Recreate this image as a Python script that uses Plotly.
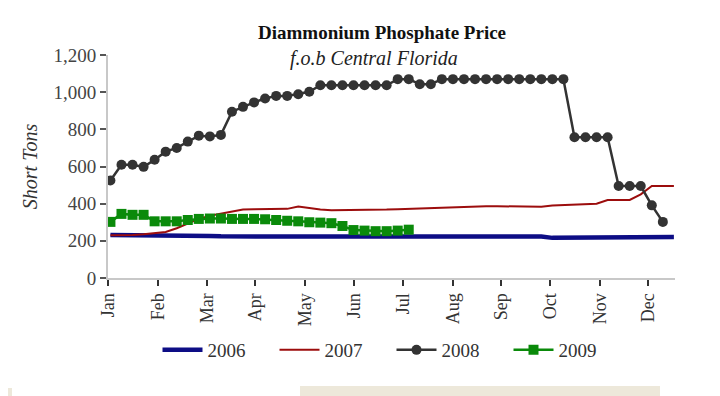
import plotly.graph_objects as go

# ---- data (weekly, week index 0 = first week of January) ----
months = ["Jan", "Feb", "Mar", "Apr", "May", "Jun", "Jul", "Aug", "Sep", "Oct", "Nov", "Dec"]
month_week_pos = [-0.2, 4.34, 8.74, 13.1, 17.6, 22.04, 26.47, 30.98, 35.35, 39.8, 44.3, 48.7]

s2006 = [232, 232, 232, 232, 232, 232, 232, 231, 230, 226, 224, 224, 224, 224, 224, 224,
         224, 224, 224, 224, 224, 224, 224, 224, 226, 226, 226, 226, 226, 226, 226, 226,
         226, 226, 226, 226, 226, 226, 225, 223, 216, 216, 216, 216, 216, 216, 216, 216,
         216, 218, 220, 220]
s2007 = [230, 230, 232, 235, 240, 248, 268, 295, 318, 335, 347, 358, 368, 370, 370, 370,
         372, 385, 375, 368, 365, 365, 365, 366, 368, 368, 370, 372, 376, 380, 380, 380,
         382, 384, 386, 386, 386, 386, 386, 384, 390, 393, 396, 398, 400, 420, 420, 420,
         450, 495, 495, 495]
s2008 = [525, 609, 609, 598, 636, 680, 700, 734, 766, 762, 770, 895, 921, 945, 966, 980,
         980, 989, 1002, 1037, 1037, 1037, 1037, 1037, 1037, 1037, 1070, 1070, 1043, 1043,
         1070, 1070, 1070, 1070, 1070, 1070, 1070, 1070, 1070, 1070, 1070, 1070,
         757, 757, 757, 757, 495, 495, 495, 391, 302]
s2009 = [302, 345, 340, 340, 305, 305, 305, 312, 318, 320, 320, 318, 318, 318, 316, 312,
         308, 305, 300, 298, 295, 280, 258, 255, 252, 252, 255, 260]

y_ticks = [0, 200, 400, 600, 800, 1000, 1200]
y_tick_labels = ["0", "200", "400", "600", "800", "1,000", "1,200"]

SERIF = "Liberation Serif, Times New Roman, serif"

# page body has an 8px default margin, so the figure is sized/offset to compensate
FIG_W, FIG_H = 712, 388
ML, MT, MR, MB = 100, 47, 45, 118
PLOT_H = FIG_H - MT - MB

fig = go.Figure()
fig.add_trace(go.Scatter(x=list(range(len(s2006))), y=s2006, name="2006", mode="lines",
                         line=dict(color="#0d0d85", width=4.5)))
fig.add_trace(go.Scatter(x=list(range(len(s2007))), y=s2007, name="2007", mode="lines",
                         line=dict(color="#9c0d0d", width=2)))
fig.add_trace(go.Scatter(x=list(range(len(s2008))), y=s2008, name="2008", mode="lines+markers",
                         line=dict(color="#333333", width=2.5),
                         marker=dict(symbol="circle", size=10, color="#333333")))
fig.add_trace(go.Scatter(x=list(range(len(s2009))), y=s2009, name="2009", mode="lines+markers",
                         line=dict(color="#0a8a0a", width=2.5),
                         marker=dict(symbol="square", size=10, color="#0a8a0a")))

PW = FIG_W - ML - MR


def px_x(page_x):
    return (page_x - 8 - ML) / PW


def px_y(page_y):
    return (FIG_H - MB - (page_y - 8)) / PLOT_H


fig.update_layout(
    width=FIG_W, height=FIG_H,
    margin=dict(l=ML, r=MR, t=MT, b=MB),
    paper_bgcolor="white", plot_bgcolor="white",
    showlegend=True,
    legend=dict(orientation="h", x=0.5, xanchor="center", y=px_y(350), yanchor="middle",
                font=dict(family=SERIF, size=19, color="#333333"),
                bgcolor="rgba(0,0,0,0)",
                entrywidth=62, entrywidthmode="pixels", itemwidth=40,
                tracegroupgap=0, traceorder="normal"),
    annotations=[
        dict(text="<b>Diammonium Phosphate Price</b>", xref="paper", yref="paper",
             x=px_x(382), y=px_y(33), xanchor="center", yanchor="middle", showarrow=False,
             font=dict(family=SERIF, size=19, color="#111111")),
        dict(text="<i>f.o.b Central Florida</i>", xref="paper", yref="paper",
             x=px_x(374), y=px_y(58), xanchor="center", yanchor="middle", showarrow=False,
             font=dict(family=SERIF, size=20, color="#222222")),
    ],
    shapes=[
        dict(type="rect", xref="paper", yref="paper", x0=px_x(300), x1=px_x(660),
             y0=px_y(397), y1=px_y(386), fillcolor="#ede8da", line=dict(width=0),
             layer="below"),
        dict(type="rect", xref="paper", yref="paper", x0=px_x(0), x1=px_x(12),
             y0=px_y(397), y1=px_y(388), fillcolor="#ede8da", line=dict(width=0),
             layer="below"),
    ],
)

fig.update_xaxes(
    range=[-0.22, 51.1], tickmode="array", tickvals=month_week_pos, ticktext=months,
    tickangle=-90, ticks="outside", ticklen=6, tickcolor="#333333", tickwidth=1.5,
    showline=True, linecolor="#c8c8c8", linewidth=2, showgrid=False, zeroline=False,
    tickfont=dict(family=SERIF, size=18, color="#333333"),
)
fig.update_yaxes(
    range=[0, 1200], tickmode="array", tickvals=y_ticks, ticktext=y_tick_labels,
    ticks="outside", ticklen=6, tickcolor="#555555", tickwidth=1.5,
    showline=True, linecolor="#c8c8c8", linewidth=2, showgrid=False, zeroline=False,
    tickfont=dict(family=SERIF, size=19, color="#444444"),
    title=dict(text="<i>Short Tons</i>", font=dict(family=SERIF, size=20, color="#333333"),
               standoff=10),
)

fig.write_html("out.html")
